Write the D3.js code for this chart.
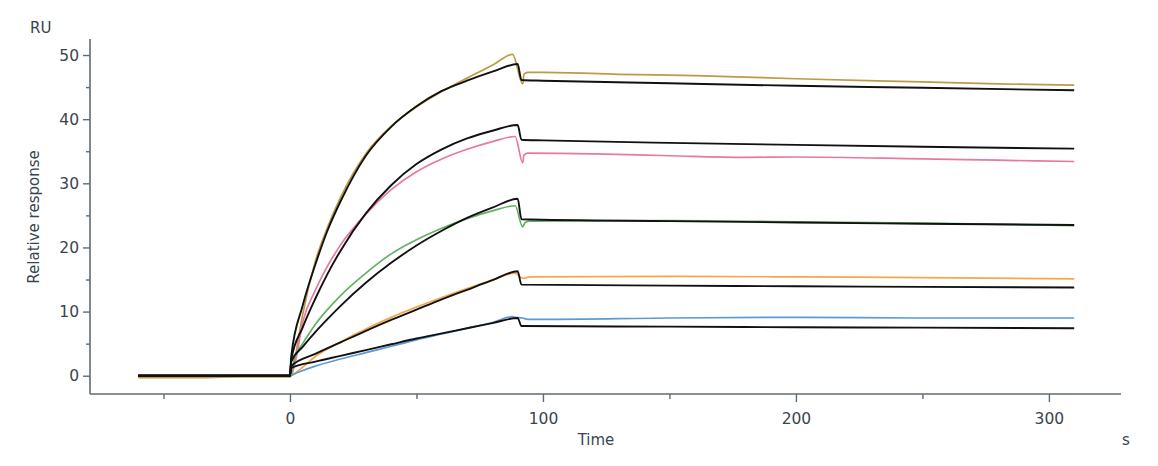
<!DOCTYPE html>
<html>
<head>
<meta charset="utf-8">
<script src="https://cdn.jsdelivr.net/npm/d3@7"></script>
<style>
  body { margin: 0; background: #fff; }
  svg text { font-family: "DejaVu Sans", "Noto Sans", sans-serif; fill: #3a444e; }
</style>
</head>
<body>
<div id="chart"></div>
<script>
// sensorgram data: [time (s), response (RU)]
const goldData = [[-60,-0.3],[-40,-0.3],[-20,-0.2],[0,-0.2],[1,0.5],[3,5],[5,9.5],[10,17.8],[15,23.3],[20,27.8],[30,34.6],[40,38.9],[50,41.9],[60,44.3],[70,46.4],[80,48.4],[88,50.1],
  [92,45.5],[92.5,47],[94,47.3],[100,47.3],[130,47],[160,46.8],[200,46.3],[250,45.8],[280,45.5],[310,45.3]];
const pinkData = [[-60,0],[0,0],[2,2],[5,8.3],[10,13.3],[15,17.2],[20,20.4],[30,25.2],[40,29],[50,31.8],[60,33.8],[70,35.3],[80,36.5],[89,37.3],
  [92,33.2],[92.5,34.4],[94,34.7],[120,34.6],[150,34.3],[180,34.05],[200,34.1],[250,33.8],[280,33.6],[310,33.4]];
const greenData = [[-60,0],[0,0],[2,3],[5,5],[10,8],[20,12.5],[30,16],[40,19],[50,21.2],[60,23],[70,24.5],[80,25.7],[89,26.5],
  [92,23.2],[93,23.9],[95,24.1],[150,24.2],[200,24],[250,23.8],[310,23.4]];
const orangeData = [[-60,0],[0,0],[3,0.7],[10,3],[20,5.3],[30,7.3],[40,9.1],[50,10.7],[60,12.2],[70,13.6],[80,14.9],[89,16],
  [92,15.2],[95,15.4],[150,15.5],[200,15.4],[250,15.3],[310,15.1]];
const blueData = [[-60,0],[0,0],[3,0.5],[10,1.5],[20,2.6],[30,3.6],[40,4.6],[50,5.6],[60,6.5],[70,7.4],[80,8.3],[88,9.2],[89,9.1],
  [92,9],[94,8.8],[100,8.8],[150,9],[200,9.1],[250,9],[310,9]];

// fitted curves (black)
const fit1 = [[-60,0],[0,0],[0.5,3],[5,10.9],[10,17.3],[15,22.8],[20,27.2],[30,34.3],[40,38.8],[50,42],[60,44.4],[70,46],[80,47.4],[90,48.6],
  [91.5,46.1],[100,46],[150,45.6],[200,45.2],[250,44.9],[310,44.5]];
const fit2 = [[-60,0],[0,0],[0.5,2.5],[5,7.5],[10,12],[15,16],[20,19.5],[30,25.3],[40,29.7],[50,33],[60,35.3],[70,37],[80,38.2],[90,39.1],
  [91.5,36.8],[100,36.7],[150,36.3],[200,36],[250,35.7],[310,35.4]];
const fit3 = [[-60,0],[0,0],[0.5,2.2],[5,4.5],[10,6.8],[15,8.9],[20,10.9],[30,14.5],[40,17.6],[50,20.3],[60,22.6],[70,24.6],[80,26.2],[90,27.6],
  [91.5,24.4],[150,24.1],[200,23.9],[250,23.7],[310,23.5]];
const fit4 = [[-60,0],[0,0],[0.5,1.5],[10,3.4],[20,5.2],[30,7],[40,8.7],[50,10.3],[60,11.9],[70,13.4],[80,14.9],[90,16.3],
  [91.5,14.2],[150,14.05],[200,13.95],[250,13.85],[310,13.75]];
const fit5 = [[-60,0],[0,0],[0.5,1.2],[10,2.2],[20,3.1],[30,4],[40,4.9],[50,5.8],[60,6.6],[70,7.4],[80,8.2],[90,9],
  [91.5,7.75],[150,7.65],[200,7.55],[250,7.5],[310,7.4]];

const dataSeries = [goldData, pinkData, greenData, orangeData, blueData];
const dataColors = ["#bd9a45", "#e8789f", "#62b262", "#f5a74a", "#5b9bd5"];
const fitSeries = [fit1, fit2, fit3, fit4, fit5];

const xMajor = [0, 100, 200, 300];
const xMinor = [-50, 50, 150, 250];
const yMajor = [0, 10, 20, 30, 40, 50];
const yMinor = [5, 15, 25, 35, 45];

const width = 1158, height = 466;
const axisColor = "#5f6b76";
const textColor = "#3e4852";

// 0 s sits at 290px, 300 s at 1049px; 0 RU at 375.7px, 50 RU at 55px
const x = d3.scaleLinear().domain([-79.05, 328.5]).range([90, 1121]);
const y = d3.scaleLinear().domain([-2.85, 52.5]).range([394, 39]);

const svg = d3.select("#chart").append("svg")
    .attr("width", width)
    .attr("height", height);

// x axis
const xAxis = svg.append("g").attr("transform", `translate(0,${y.range()[0]})`);
xAxis.call(d3.axisBottom(x).tickValues(xMajor).tickSize(8).tickPadding(11).tickFormat(d3.format("d")));
xAxis.append("g").call(d3.axisBottom(x).tickValues(xMinor).tickSize(5).tickFormat(""))
    .select(".domain").remove();
xAxis.selectAll(".domain").attr("stroke", axisColor).attr("stroke-width", 1.6)
    .attr("d", `M${x.range()[0]},0H${x.range()[1]}`);
xAxis.selectAll(".tick line").attr("stroke", axisColor).attr("stroke-width", 1.4);
xAxis.selectAll(".tick text").style("font-size", "15.5px").attr("fill", textColor);

// y axis
const yAxis = svg.append("g").attr("transform", `translate(${x.range()[0]},0)`);
yAxis.call(d3.axisLeft(y).tickValues(yMajor).tickSize(7).tickPadding(4));
yAxis.append("g").call(d3.axisLeft(y).tickValues(yMinor).tickSize(4).tickFormat(""))
    .select(".domain").remove();
yAxis.selectAll(".domain").attr("stroke", axisColor).attr("stroke-width", 1.6)
    .attr("d", `M0,${y.range()[1]}V${y.range()[0]}`);
yAxis.selectAll(".tick line").attr("stroke", axisColor).attr("stroke-width", 1.4);
yAxis.selectAll(".tick text").style("font-size", "15.5px").attr("fill", textColor);

// axis titles
svg.append("text").attr("x", 30).attr("y", 33).style("font-size", "15px").text("RU");
svg.append("text")
    .attr("transform", "translate(39,217) rotate(-90)")
    .attr("text-anchor", "middle")
    .style("font-size", "15px")
    .text("Relative response");
svg.append("text").attr("x", 596).attr("y", 445).attr("text-anchor", "middle")
    .style("font-size", "15px").text("Time");
svg.append("text").attr("x", 1126).attr("y", 445).attr("text-anchor", "middle")
    .style("font-size", "15px").text("s");

const line = d3.line()
    .x(d => x(d[0]))
    .y(d => y(d[1]))
    .curve(d3.curveMonotoneX);

// measured curves
svg.selectAll("path.data")
    .data(dataSeries)
    .join("path")
    .attr("class", "data")
    .attr("d", line)
    .attr("fill", "none")
    .attr("stroke", (d, i) => dataColors[i])
    .attr("stroke-width", 1.7)
    .attr("stroke-linejoin", "round");

// fitted curves on top
svg.selectAll("path.fit")
    .data(fitSeries)
    .join("path")
    .attr("class", "fit")
    .attr("d", line)
    .attr("fill", "none")
    .attr("stroke", "#111")
    .attr("stroke-width", 1.9)
    .attr("stroke-linejoin", "round");
</script>
</body>
</html>
